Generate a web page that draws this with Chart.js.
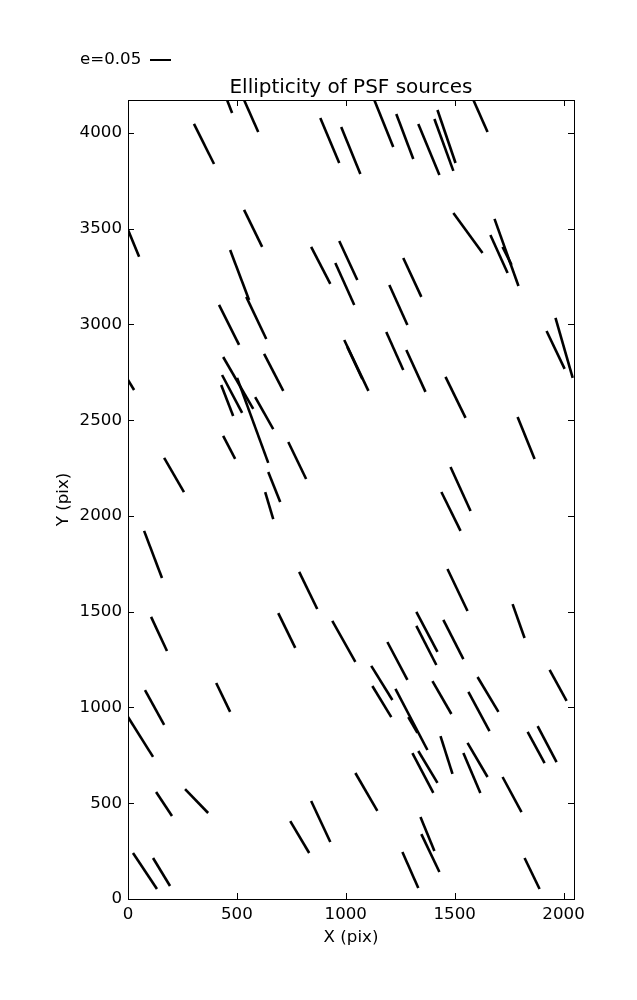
<!DOCTYPE html>
<html>
<head>
<meta charset="utf-8">
<script src="https://cdn.jsdelivr.net/npm/chart.js@4/dist/chart.umd.min.js"></script>
<style>
html,body{margin:0;padding:0;background:#fff;}
#wrap{width:637px;height:1000px;position:relative;}
</style>
</head>
<body>
<div id="wrap"><canvas id="c" width="637" height="1000"></canvas></div>
<script>
// Whisker segments (start / end) in detector pixel coordinates
const x0 = [455,533,303,883,979,1131,1232,1333,1407,1421,
  1586,0,533,469,543,841,970,952,1494,1683,
  1664,1720,1264,1200,418,993,1007,0,437,501,
  432,428,584,625,437,736,166,630,644,1186,
  1278,1458,1789,1922,1963,1439,1481,74,786,106,
  690,938,78,405,1467,1766,1324,1324,1448,1191,
  1117,1122,1228,1287,1398,1563,1605,1936,0,129,
  262,745,841,23,115,1044,1435,1306,1333,1540,
  1559,1720,1835,1881,1343,1347,1260,1821];
const y0 = [4172,4172,4047,4078,4031,4172,4099,4047,4073,4120,
  4172,3494,3598,3389,3144,3405,3436,3321,3582,3551,
  3467,3405,3347,3206,3102,2919,2883,2710,2830,2721,
  2736,2684,2621,2846,2418,2386,2303,2125,2230,2961,
  2867,2726,2517,2966,3034,2125,2256,1922,1708,1473,
  1493,1452,1091,1128,1723,1540,1499,1426,1457,1342,
  1217,1112,1097,950,1138,1081,1159,1196,950,559,
  574,407,512,240,214,658,851,762,773,762,
  815,637,872,903,428,339,245,214];
const x1 = [478,598,395,970,1067,1218,1310,1430,1494,1504,
  1651,51,616,556,635,929,1053,1039,1628,1793,
  1743,1761,1347,1283,510,1104,1076,28,575,644,
  524,483,667,713,492,818,257,667,699,1264,
  1366,1550,1867,2005,2042,1527,1573,156,869,179,
  768,1044,166,469,1559,1821,1421,1416,1540,1283,
  1214,1209,1375,1329,1485,1660,1701,2014,115,202,
  368,832,929,133,193,1145,1490,1402,1421,1618,
  1651,1807,1913,1968,1407,1430,1333,1890];
const y1 = [4104,4005,3838,3843,3786,3927,3864,3781,3802,3843,
  4005,3353,3405,3128,2924,3212,3232,3102,3373,3201,
  3269,3311,3144,2997,2893,2653,2715,2658,2559,2277,
  2538,2522,2454,2653,2298,2193,2125,1984,2073,2762,
  2648,2512,2298,2768,2721,1922,2026,1676,1514,1295,
  1311,1238,909,977,1504,1363,1290,1222,1253,1144,
  1039,950,778,867,966,877,977,1034,742,433,
  449,240,298,52,68,460,653,554,606,554,
  637,454,710,715,251,141,57,52];

const xTicks = [0,500,1000,1500,2000];
const yTicks = [0,500,1000,1500,2000,2500,3000,3500,4000];
const xRange = [0,2048];
const yRange = [0,4172];
const titleText = 'Ellipticity of PSF sources';
const xLabel = 'X (pix)';
const yLabel = 'Y (pix)';
const keyLabel = 'e=0.05';

const FONT = '"DejaVu Sans", sans-serif';

const datasets = x0.map((_, i) => ({
  data: [{x: x0[i], y: y0[i]}, {x: x1[i], y: y1[i]}],
  showLine: true,
  borderColor: '#000',
  backgroundColor: '#000',
  borderWidth: 2.6,
  borderCapStyle: 'butt',
  pointRadius: 0,
  pointHoverRadius: 0,
  fill: false
}));

const deco = {
  id: 'deco',
  afterDatasetsDraw(chart) {
    const {ctx, chartArea: a, scales} = chart;
    ctx.save();
    ctx.strokeStyle = '#000';
    ctx.lineWidth = 1;
    const tl = 6;
    ctx.beginPath();
    xTicks.forEach(v => {
      const px = Math.round(scales.x.getPixelForValue(v)) + 0.5;
      ctx.moveTo(px, a.bottom); ctx.lineTo(px, a.bottom - tl);
      ctx.moveTo(px, a.top); ctx.lineTo(px, a.top + tl);
    });
    yTicks.forEach(v => {
      const py = Math.round(scales.y.getPixelForValue(v)) + 0.5;
      ctx.moveTo(a.left, py); ctx.lineTo(a.left + tl, py);
      ctx.moveTo(a.right, py); ctx.lineTo(a.right - tl, py);
    });
    ctx.stroke();
    ctx.strokeRect(Math.round(a.left) + 0.5, Math.round(a.top) + 0.5,
      Math.round(a.right - a.left), Math.round(a.bottom - a.top));

    ctx.fillStyle = '#000';
    // title
    ctx.font = '20px ' + FONT;
    ctx.textAlign = 'center';
    ctx.textBaseline = 'alphabetic';
    ctx.fillText(titleText, (a.left + a.right) / 2, 93);
    // axis labels
    ctx.font = '16.67px ' + FONT;
    ctx.textBaseline = 'middle';
    ctx.fillText(xLabel, (a.left + a.right) / 2, 938);
    ctx.save();
    ctx.translate(64, (a.top + a.bottom) / 2);
    ctx.rotate(-Math.PI / 2);
    ctx.fillText(yLabel, 0, 0);
    ctx.restore();
    // key
    ctx.textAlign = 'left';
    ctx.fillText(keyLabel, 80, 60);
    ctx.lineWidth = 2;
    ctx.beginPath();
    ctx.moveTo(150, 60);
    ctx.lineTo(171, 60);
    ctx.stroke();
    ctx.restore();
  }
};

const plainNum = v => String(v);

new Chart(document.getElementById('c'), {
  type: 'scatter',
  data: {datasets},
  plugins: [deco],
  options: {
    responsive: false,
    animation: false,
    events: [],
    layout: {padding: {left: 0, right: 63, top: 100, bottom: 0}},
    plugins: {legend: {display: false}, title: {display: false}, tooltip: {enabled: false}},
    scales: {
      x: {
        type: 'linear', min: xRange[0], max: xRange[1],
        grid: {display: false, drawTicks: false},
        border: {display: false},
        afterBuildTicks: s => { s.ticks = xTicks.map(v => ({value: v})); },
        afterFit: s => { s.height = 101; },
        ticks: {color: '#000', padding: 6, maxRotation: 0, callback: plainNum, font: {family: FONT, size: 16.67}}
      },
      y: {
        type: 'linear', min: yRange[0], max: yRange[1],
        grid: {display: false, drawTicks: false},
        border: {display: false},
        afterBuildTicks: s => { s.ticks = yTicks.map(v => ({value: v})); },
        afterFit: s => { s.width = 128; },
        ticks: {color: '#000', padding: 6, callback: plainNum, font: {family: FONT, size: 16.67}}
      }
    }
  }
});
</script>
</body>
</html>
